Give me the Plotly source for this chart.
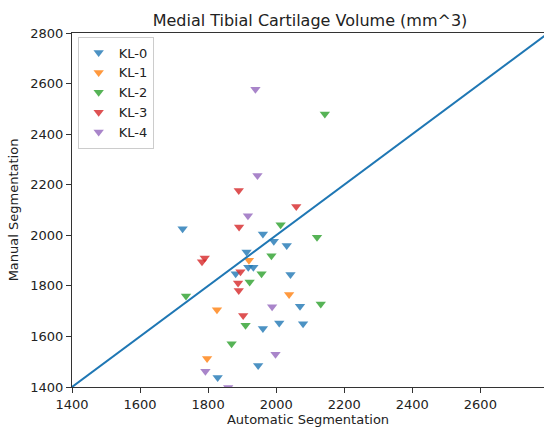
import plotly.graph_objects as go

# Data
kl0_auto = [1725, 1961, 1993, 2031, 1913, 1918, 1933, 1881, 2042, 2070, 1961, 2009, 2079, 1947, 1828]
kl0_manual = [2026, 2005, 1976, 1960, 1934, 1874, 1874, 1848, 1845, 1719, 1631, 1653, 1650, 1485, 1438]

kl1_auto = [1920, 2038, 1826, 1797]
kl1_manual = [1901, 1766, 1706, 1513]

kl2_auto = [2143, 2013, 2120, 1986, 1957, 1922, 1735, 2131, 1910, 1869]
kl2_manual = [2480, 2042, 1992, 1919, 1848, 1815, 1760, 1728, 1644, 1571]

kl3_auto = [1890, 2059, 1891, 1790, 1782, 1895, 1888, 1890, 1903]
kl3_manual = [2177, 2114, 2033, 1910, 1895, 1856, 1811, 1782, 1683]

kl4_auto = [1939, 1945, 1917, 1988, 1998, 1792, 1859]
kl4_manual = [2578, 2236, 2077, 1717, 1530, 1462, 1398]

identity_line = [1400, 2800]

series_names = ["KL-0", "KL-1", "KL-2", "KL-3", "KL-4"]
colors = ["#1f77b4", "#ff7f0e", "#2ca02c", "#d62728", "#9467bd"]

groups = [
    (kl0_auto, kl0_manual),
    (kl1_auto, kl1_manual),
    (kl2_auto, kl2_manual),
    (kl3_auto, kl3_manual),
    (kl4_auto, kl4_manual),
]

fig = go.Figure()

for name, color, (xs, ys) in zip(series_names, colors, groups):
    fig.add_trace(go.Scatter(
        x=xs, y=ys, mode="markers", name=name,
        marker=dict(symbol="triangle-down", size=9, color=color, opacity=0.8,
                    line=dict(width=0)),
    ))

fig.add_trace(go.Scatter(
    x=identity_line, y=identity_line, mode="lines", showlegend=False,
    line=dict(color="#1f77b4", width=2),
))

font_family = "DejaVu Sans"

fig.update_layout(
    width=544, height=429,
    margin=dict(l=72, r=0, t=33, b=42),
    paper_bgcolor="white", plot_bgcolor="white",
    font=dict(family=font_family, size=13, color="#222"),
    title=dict(text="Medial Tibial Cartilage Volume (mm^3)", x=310 / 544,
               xanchor="center", y=1 - 20 / 429, yanchor="middle",
               font=dict(size=16, color="#222")),
    showlegend=True,
    legend=dict(x=0.012, y=0.99, xanchor="left", yanchor="top",
                bordercolor="#cccccc", borderwidth=1, bgcolor="white",
                font=dict(size=13, color="#222"), tracegroupgap=0),
    xaxis=dict(range=[1400, 2787], tickvals=[1400, 1600, 1800, 2000, 2200, 2400, 2600],
               automargin=False,
               showgrid=False, zeroline=False, showline=True, linecolor="#333",
               linewidth=1, mirror=True, ticks="outside", ticklen=5, tickcolor="#333",
               title=dict(text="Automatic Segmentation", standoff=3, font=dict(size=13)),
               tickfont=dict(size=13)),
    yaxis=dict(range=[1400, 2800], tickvals=[1400, 1600, 1800, 2000, 2200, 2400, 2600, 2800],
               automargin=False,
               showgrid=False, zeroline=False, showline=True, linecolor="#333",
               linewidth=1, ticks="outside", ticklen=5, tickcolor="#333",
               title=dict(text="Manual Segmentation", standoff=8, font=dict(size=13)),
               tickfont=dict(size=13)),
)

fig.write_html(
    "out.html",
    config={"responsive": False, "displayModeBar": False},
    post_script="document.body.style.margin='0';document.body.style.padding='0';",
)
